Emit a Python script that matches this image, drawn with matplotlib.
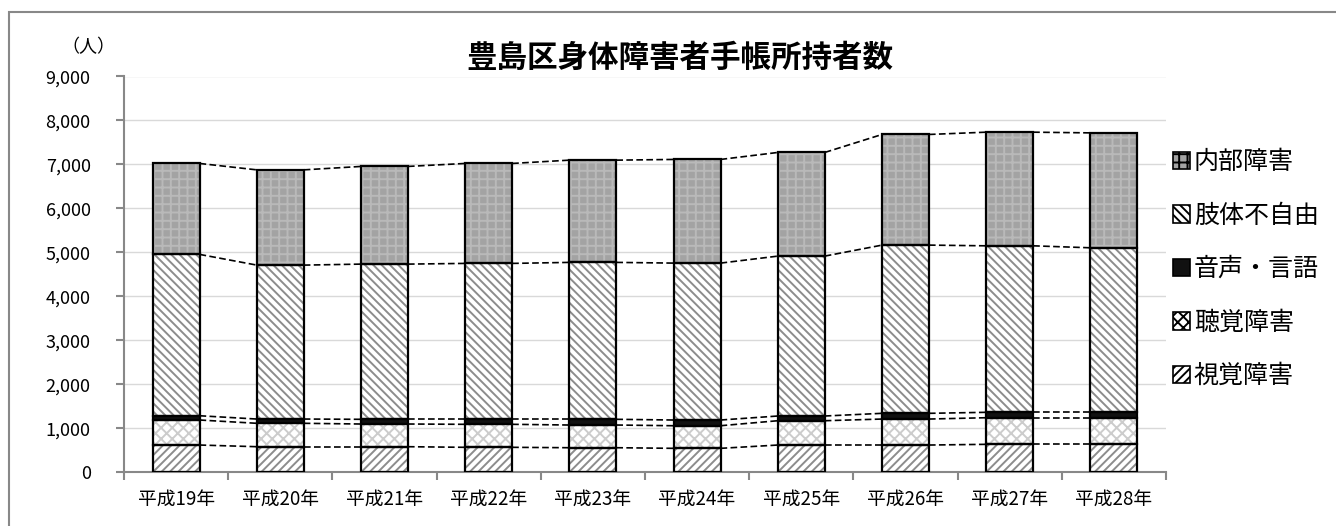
import matplotlib.pyplot as plt
from matplotlib.patches import Rectangle, Patch
import numpy as np

plt.rcParams['font.family'] = ['Noto Sans CJK JP', 'DejaVu Sans']
plt.rcParams['hatch.linewidth'] = 1.4

years = ['平成19年', '平成20年', '平成21年', '平成22年', '平成23年',
         '平成24年', '平成25年', '平成26年', '平成27年', '平成28年']
visual = [620, 582, 582, 568, 559, 545, 620, 620, 636, 636]
hearing = [569, 532, 516, 523, 516, 514, 553, 591, 605, 605]
speech = [97, 97, 107, 114, 130, 130, 107, 130, 123, 123]
limbs = [3669, 3500, 3529, 3545, 3568, 3568, 3636, 3825, 3786, 3741]
internal = [2068, 2166, 2221, 2273, 2325, 2357, 2357, 2516, 2584, 2613]

series = [
    ('視覚障害', visual, 'white', '////', '#8c8c8c'),
    ('聴覚障害', hearing, 'white', 'xxx', '#cccccc'),
    ('音声・言語', speech, '#111111', '', '#111111'),
    ('肢体不自由', limbs, 'white', '\\\\\\\\', '#8c8c8c'),
    ('内部障害', internal, '#a3a3a3', '++', '#b9b9b9'),
]

fig = plt.figure(figsize=(13.36, 5.26), dpi=100)
ax = fig.add_axes([124/1336, 1-472.3/526, (1166-124)/1336, (472.3-76.5)/526])

x = np.arange(len(years))
w = 0.45
bottom = np.zeros(len(years))
handles = []
for name, vals, fc, hatch, hc in series:
    vals = np.array(vals, dtype=float)
    ax.bar(x, vals, w, bottom=bottom, color=fc, hatch=hatch, edgecolor=hc,
           linewidth=0, zorder=2)
    ax.bar(x, vals, w, bottom=bottom, fill=False, edgecolor='black',
           linewidth=1.6, zorder=3)
    bottom = bottom + vals
    # series lines between bars
    for i in range(len(years) - 1):
        ax.plot([x[i] + w/2, x[i+1] - w/2], [bottom[i], bottom[i+1]],
                color='black', lw=1.2, ls=(0, (4, 2)), zorder=3)
    handles.append(Patch(facecolor=fc, hatch=hatch, edgecolor='black',
                         linewidth=1.2, label=name))

ax.set_xlim(-0.5, len(years) - 0.5)
ax.set_ylim(0, 9000)
ax.set_yticks(np.arange(0, 9001, 1000))
ax.set_yticklabels([f'{v:,}' for v in range(0, 9001, 1000)], fontsize=13)
ax.set_xticks(x)
ax.set_xticklabels(years, fontsize=13.5)
ax.set_xticks(np.arange(-0.5, len(years), 1), minor=True)
ax.tick_params(axis='x', which='major', length=0, pad=12)
ax.tick_params(axis='x', which='minor', length=6, color='#888888', width=1.5)
ax.tick_params(axis='y', length=6, color='#888888', width=1.5, pad=18)
ax.grid(axis='y', color='#d9d9d9', lw=1, zorder=0)
ax.set_axisbelow(True)
for s in ['top', 'right']:
    ax.spines[s].set_visible(False)
for s in ['left', 'bottom']:
    ax.spines[s].set_color('#888888')
    ax.spines[s].set_linewidth(1.5)

leg = fig.legend(handles[::-1], [h.get_label() for h in handles[::-1]],
                 loc='center left', bbox_to_anchor=(1150/1336, 1-269/526),
                 frameon=False, fontsize=18, handlelength=0.7,
                 handleheight=0.7, handletextpad=0.15, labelspacing=1.1)

fig.text(680/1336, 1-58/526, '豊島区身体障害者手帳所持者数', ha='center',
         va='center', fontsize=22, fontweight='bold')
fig.text(88/1336, 1-47/526, '（人）', ha='center', va='center', fontsize=13)

fig.add_artist(Rectangle((9/1336, -0.5), 2, 0.5 + 1 - 12/526, transform=fig.transFigure,
                         fill=False, edgecolor='#888888', lw=1.5))

fig.savefig('out.png', dpi=100)
